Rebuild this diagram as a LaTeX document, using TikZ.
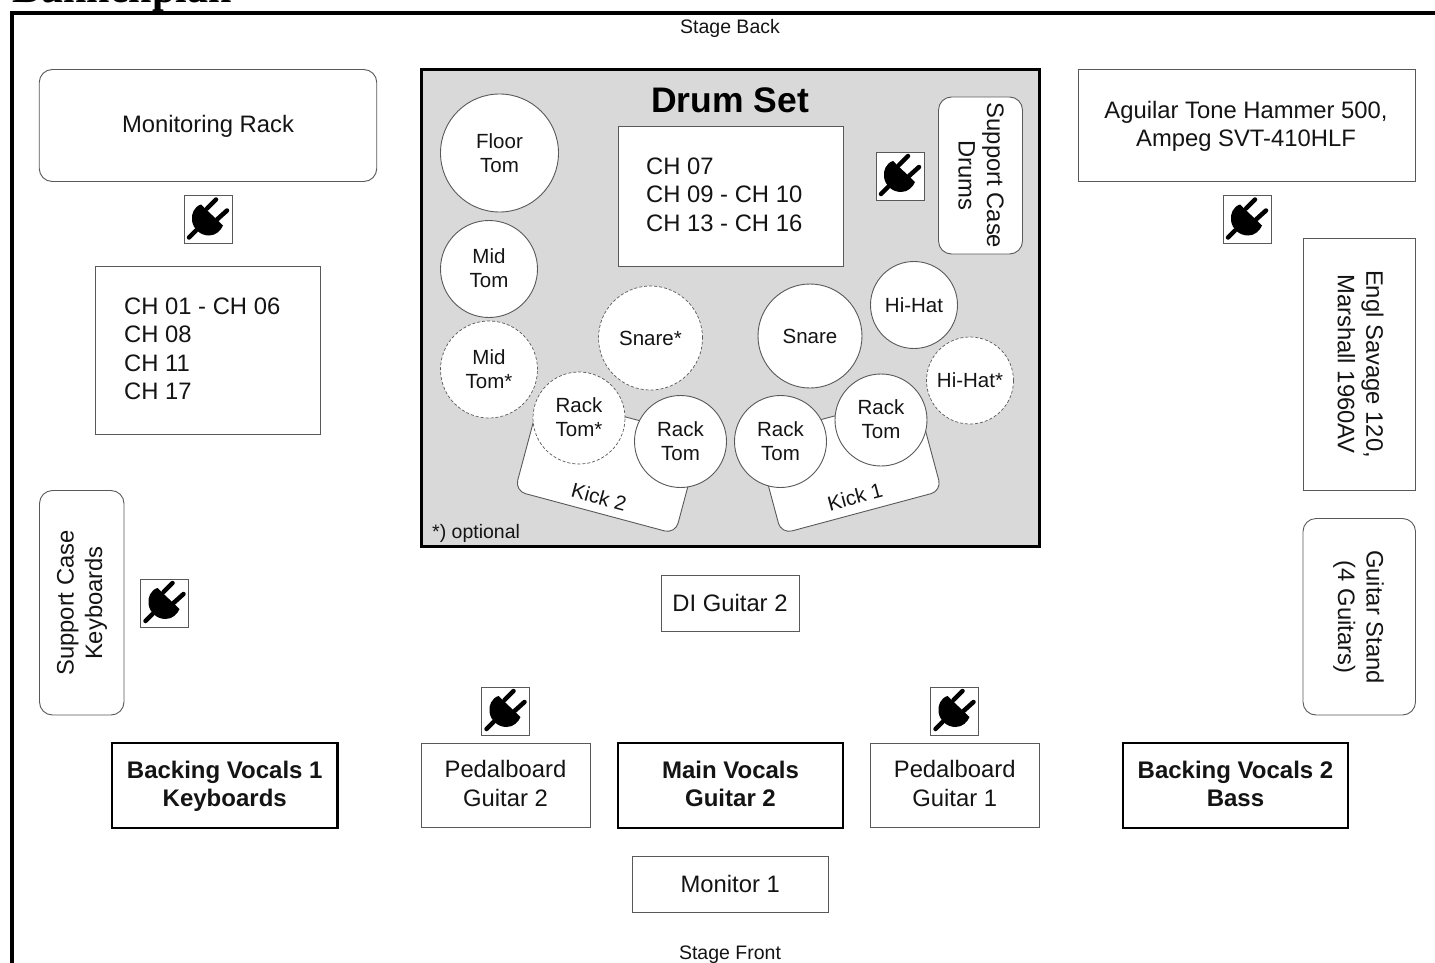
\documentclass[tikz,border=0pt]{standalone}
\usepackage{fontspec}
\setmainfont{Liberation Sans}
\newfontfamily\titlefont{Liberation Serif}
\newcommand{\fsz}[2]{\fontsize{#1}{#2}\selectfont}
\newcommand{\bstrut}{\rule[-7pt]{0pt}{28pt}}
\tikzset{
  boxbase/.style={draw=black!65,line width=0.9pt,fill=white,inner sep=0pt,outer sep=0pt,align=center,text=black!92,font=\fsz{23.8}{28.5}},
  plainbox/.style={boxbase,rectangle},
  roundbox/.style={boxbase,rectangle,rounded corners=13pt},
  strongbox/.style={boxbase,draw=black,line width=2.2pt,font=\fsz{24}{28.5}\bfseries},
  drum/.style={boxbase,circle,font=\fsz{20.5}{24}},
  optdrum/.style={drum,densely dashed,line width=0.7pt},
  captext/.style={text=black!92,inner sep=0pt,font=\fsz{19.5}{23}},
  boxtext/.style={inner sep=0pt,align=center,font=\fsz{23.8}{28.5},text=black!92},
  plugbox/.style={draw=black!65,line width=0.9pt,fill=white},
  plugicon/.pic={
    \path[plugbox] (-24,-24) rectangle (24,24);
    \fill[black] (-7,-15) .. controls (-14,-13) and (-17,-5) .. (-16,1)
      .. controls (-15,9) and (-8,16) .. (1,16)
      .. controls (8,16) and (13,11) .. (15,6) -- cycle;
    \draw[black,line width=4.5pt,line cap=round] (-1,-11) -- (8,-20);
    \draw[black,line width=4.5pt,line cap=round] (9,0) -- (19,-9);
    \draw[black,line width=4.5pt,line cap=round] (-12,11) -- (-19,18);
  }
}
\begin{document}
\begin{tikzpicture}[x=1pt,y=-1pt]
\path[use as bounding box] (0,0) rectangle (1435,963);
\clip (0,0) rectangle (1435,963);
\fill[white] (0,0) rectangle (1435,963);
\node[anchor=base west,inner sep=0pt,font=\titlefont\bfseries\fsz{42}{44}] (title) at (12,3) {Bühnenplan};
\draw[black,line width=4.5pt] (12,980) -- (12,13) -- (1450,13);
\node[captext] (stageback) at (730,28) {Stage Back};
\node[captext] (stagefront) at (730,955) {Stage Front};

% left column
\node[roundbox,minimum width=337.5pt,minimum height=112pt] (monrack) at (208,125.5) {};
\node[boxtext] (monracklabel) at (208,126) {Monitoring Rack};
\node[plainbox,minimum width=225pt,minimum height=168pt] (chleft) at (208,350) {};
\node[boxtext,anchor=west,align=left] (chlefttext) at (124,349) {CH 01 - CH 06\\CH 08\\CH 11\\CH 17};
\node[roundbox,minimum width=84.5pt,minimum height=224.5pt] (casekeys) at (81.75,602.75) {};
\node[boxtext,rotate=90] (casekeyslabel) at (82,603) {Support Case\\Keyboards};

% drum set
\node[draw=black,line width=3.6pt,fill=black!15,rectangle,minimum width=618pt,minimum height=477pt,inner sep=0pt] (drumset) at (730.5,308) {};
\node[inner sep=0pt,font=\fsz{35.5}{38}\bfseries] (drumtitle) at (730,100) {Drum Set};
\node[plainbox,minimum width=225pt,minimum height=140pt] (chcentre) at (730.5,196) {};
\node[boxtext,anchor=west,align=left] (chcentretext) at (646,194.5) {CH 07\\CH 09 - CH 10\\CH 13 - CH 16};
\node[roundbox,minimum width=84pt,minimum height=157pt] (casedrums) at (980.5,175.5) {};
\node[boxtext,rotate=-90] (casedrumslabel) at (981,175.5) {Support Case\\Drums};
\node[captext,anchor=west] (optional) at (432,533) {*) optional};

\node[boxbase,rectangle,rounded corners=11pt,rotate=-15,minimum width=166pt,minimum height=100pt] (kick2) at (608,464) {};
\node[captext,rotate=-15,font=\fsz{20.5}{24}] (kick2label) at (599,497) {Kick 2};
\node[boxbase,rectangle,rounded corners=11pt,rotate=15,minimum width=166pt,minimum height=100pt] (kick1) at (848.5,464) {};
\node[captext,rotate=15,font=\fsz{20.5}{24}] (kick1label) at (855,497) {Kick 1};

\node[drum,minimum size=118pt] (floor) at (499.5,153) {Floor\\Tom};
\node[drum,minimum size=97pt] (mid) at (489,269) {\raisebox{2pt}{Mid}\\\raisebox{2pt}{Tom}};
\node[optdrum,minimum size=97pt] (midopt) at (489,369.5) {\raisebox{1pt}{Mid}\\\raisebox{1pt}{Tom*}};
\node[optdrum,minimum size=104pt] (snareopt) at (650.5,338) {Snare*};
\node[drum,minimum size=104pt] (snare) at (810,336) {Snare};
\node[drum,minimum size=87pt] (hihat) at (914,305) {Hi-Hat};
\node[optdrum,minimum size=87pt] (hihatopt) at (970,380.5) {Hi-Hat*};
\node[optdrum,minimum size=92pt] (rackopt) at (579,418) {\raisebox{1pt}{Rack}\\\raisebox{1pt}{Tom*}};
\node[drum,minimum size=92pt] (racka) at (680.5,441.5) {Rack\\Tom};
\node[drum,minimum size=92pt] (rackb) at (780.5,441.5) {Rack\\Tom};
\node[drum,minimum size=92pt] (rackc) at (881,420) {\raisebox{2pt}{Rack}\\\raisebox{2pt}{Tom}};

% right column
\node[plainbox,minimum width=337pt,minimum height=112pt] (aguilar) at (1247,125.5) {};
\node[boxtext] (aguilarlabel) at (1246,126.5) {Aguilar Tone Hammer 500,\\Ampeg SVT-410HLF};
\node[plainbox,minimum width=112.5pt,minimum height=252.5pt] (engl) at (1359.25,364.25) {};
\node[boxtext,rotate=-90] (engllabel) at (1360.5,364) {Engl Savage 120,\\Marshall 1960AV};
\node[roundbox,minimum width=112.5pt,minimum height=196.5pt] (gstand) at (1359.25,616.75) {};
\node[boxtext,rotate=-90] (gstandlabel) at (1358.5,617) {Guitar Stand\\(4 Guitars)};

% front
\node[plainbox,minimum width=138pt,minimum height=56pt] (di) at (730,603) {DI Guitar 2};
\node[strongbox,minimum width=225.5pt,minimum height=85pt] (bv1) at (224.75,785.5) {\bstrut Backing Vocals 1\\\bstrut Keyboards};
\node[plainbox,minimum width=169pt,minimum height=84pt] (ped2) at (505.5,785) {\bstrut Pedalboard\\\bstrut Guitar 2};
\node[strongbox,minimum width=225pt,minimum height=85pt] (mainv) at (730.5,785.5) {\bstrut Main Vocals\\\bstrut Guitar 2};
\node[plainbox,minimum width=168.5pt,minimum height=84pt] (ped1) at (954.75,785) {\bstrut Pedalboard\\\bstrut Guitar 1};
\node[strongbox,minimum width=225pt,minimum height=85pt] (bv2) at (1235.5,785.5) {\bstrut Backing Vocals 2\\\bstrut Bass};
\node[plainbox,minimum width=196.5pt,minimum height=56pt] (mon1) at (730.25,884) {\raisebox{1pt}{Monitor 1}};

% power sockets
\pic (plugA) at (208,219.5) {plugicon};
\pic (plugB) at (900,176) {plugicon};
\pic (plugC) at (1247,219.5) {plugicon};
\pic (plugD) at (164.5,603) {plugicon};
\pic (plugE) at (505.5,711) {plugicon};
\pic (plugF) at (954.5,711) {plugicon};
\end{tikzpicture}
\end{document}
